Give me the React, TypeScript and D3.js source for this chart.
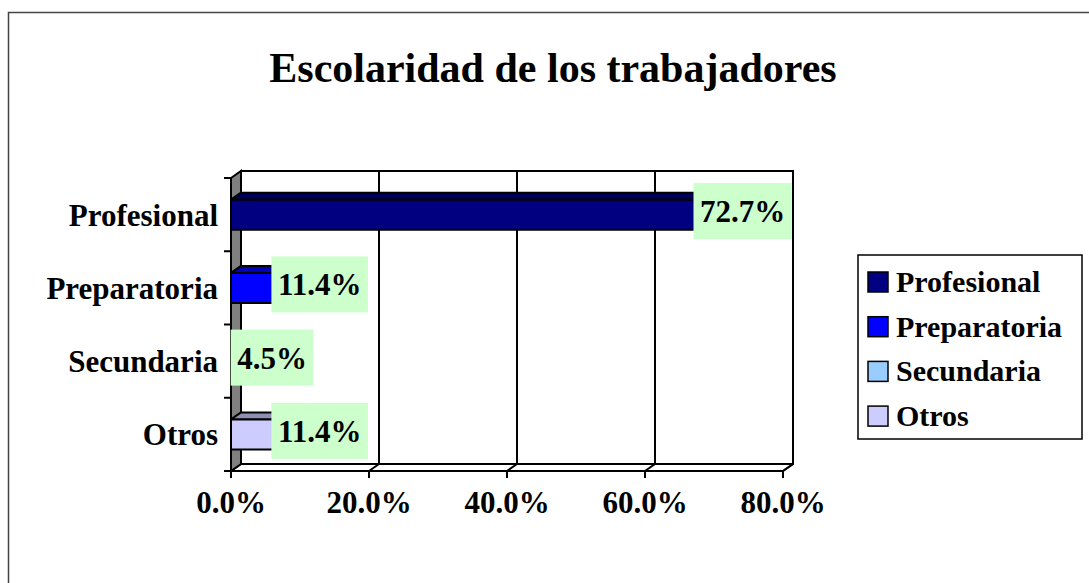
import React from "react";
import * as d3 from "d3";

const categories = ["Profesional", "Preparatoria", "Secundaria", "Otros"];
const values = [0.727, 0.114, 0.045, 0.114];
const valueLabels = ["72.7%", "11.4%", "4.5%", "11.4%"];
const xTicks = [0, 0.2, 0.4, 0.6, 0.8];
const xTickLabels = ["0.0%", "20.0%", "40.0%", "60.0%", "80.0%"];
const frontColors = ["#000080", "#0000FF", "#99CCFF", "#CCCCFF"];
const topColors = ["#00005A", "#0000B4", "#6B8FB3", "#8F8FB3"];
const sideColors = ["#000040", "#000080", "#4D6680", "#666680"];
const title = "Escolaridad de los trabajadores";

const FONT = "'Liberation Serif', 'Times New Roman', serif";
const FS = 31;

function measure(text: string, size: number): number {
  if (typeof document === "undefined") return text.length * size * 0.5;
  const c = document.createElement("canvas");
  const ctx = c.getContext("2d");
  if (!ctx) return text.length * size * 0.5;
  ctx.font = `bold ${size}px ${FONT}`;
  return ctx.measureText(text).width;
}

export default function App() {
  const W = 1089;
  const H = 583;
  const dx = 10;
  const dy = -7;
  const x = d3.scaleLinear().domain([0, 0.8]).range([231, 783]);
  const y = d3.scaleBand<string>().domain(categories).range([178, 471]);
  const yTop = 178;
  const yBot = 471;
  const barH = 30;
  const sw = 2;

  return (
    <svg
      width={W}
      height={H}
      style={{ position: "absolute", left: 0, top: 0, background: "#fff" }}
      fontFamily={FONT}
      fontWeight="bold"
    >
      <rect x={8.5} y={12.5} width={1300} height={800} fill="#fff" stroke="#444" strokeWidth={1.5} />
      <text x={553} y={82} fontSize={42} textAnchor="middle" fill="#000">
        {title}
      </text>

      {/* back wall */}
      <rect
        x={x(0) + dx}
        y={yTop + dy}
        width={x(0.8) - x(0)}
        height={yBot - yTop}
        fill="#fff"
        stroke="#000"
        strokeWidth={sw}
      />
      {xTicks.slice(1).map((t) => (
        <g key={"g" + t}>
          <line x1={x(t) + dx} x2={x(t) + dx} y1={yTop + dy} y2={yBot + dy} stroke="#000" strokeWidth={sw} />
          <line x1={x(t) + dx} x2={x(t)} y1={yBot + dy} y2={yBot} stroke="#000" strokeWidth={sw} />
        </g>
      ))}
      {/* floor */}
      <polygon
        points={`${x(0)},${yBot} ${x(0) + dx},${yBot + dy} ${x(0.8) + dx},${yBot + dy} ${x(0.8)},${yBot}`}
        fill="none"
        stroke="#000"
        strokeWidth={sw}
        strokeLinejoin="round"
      />
      {/* left wall */}
      <polygon
        points={`${x(0)},${yTop} ${x(0) + dx},${yTop + dy} ${x(0) + dx},${yBot + dy} ${x(0)},${yBot}`}
        fill="#808080"
        stroke="#000"
        strokeWidth={sw}
      />
      {[...categories.map((c) => y(c) as number), yBot].map((v, i) => (
        <line key={"yt" + i} x1={x(0) - 7} x2={x(0)} y1={v} y2={v} stroke="#000" strokeWidth={sw} />
      ))}
      {xTicks.map((t) => (
        <line key={"xt" + t} x1={x(t)} x2={x(t)} y1={yBot} y2={yBot + 7} stroke="#000" strokeWidth={sw} />
      ))}

      {/* bars */}
      {categories.map((c, i) => {
        const cy = (y(c) as number) + y.bandwidth() / 2;
        const t = cy - barH / 2;
        const b = cy + barH / 2;
        const x0 = x(0);
        const x1 = x(values[i]);
        return (
          <g key={"b" + c} stroke="#000" strokeWidth={sw} strokeLinejoin="round">
            <polygon
              points={`${x0},${t} ${x0 + dx},${t + dy} ${x1 + dx},${t + dy} ${x1},${t}`}
              fill={topColors[i]}
            />
            <polygon
              points={`${x1},${t} ${x1 + dx},${t + dy} ${x1 + dx},${b + dy} ${x1},${b}`}
              fill={sideColors[i]}
            />
            <rect x={x0} y={t} width={x1 - x0} height={barH} fill={frontColors[i]} />
          </g>
        );
      })}

      {/* data labels */}
      {categories.map((c, i) => {
        const cy = (y(c) as number) + y.bandwidth() / 2 + dy / 2;
        const cx = x(values[i]) + dx;
        const w = measure(valueLabels[i], FS) + 13;
        const h = 56;
        return (
          <g key={"l" + c}>
            <rect x={cx - w / 2} y={cy - h / 2} width={w} height={h} fill="#CCFFCC" />
            <text x={cx} y={cy + 11} fontSize={FS} textAnchor="middle" fill="#000">
              {valueLabels[i]}
            </text>
          </g>
        );
      })}

      {/* category labels */}
      {categories.map((c) => (
        <text
          key={"c" + c}
          x={218}
          y={(y(c) as number) + y.bandwidth() / 2 + 11}
          fontSize={FS}
          textAnchor="end"
          fill="#000"
        >
          {c}
        </text>
      ))}

      {xTicks.map((t, i) => (
        <text key={"xl" + t} x={x(t)} y={513} fontSize={FS} textAnchor="middle" fill="#000">
          {xTickLabels[i]}
        </text>
      ))}

      {/* legend */}
      <rect x={858} y={255} width={224} height={184} fill="#fff" stroke="#000" strokeWidth={1.5} />
      {categories.map((c, i) => (
        <g key={"lg" + c}>
          <rect x={868} y={272 + i * 44.7} width={20} height={20} fill={frontColors[i]} stroke="#000" strokeWidth={1.5} />
          <text x={896} y={292 + i * 44.7} fontSize={30} fill="#000">
            {c}
          </text>
        </g>
      ))}
    </svg>
  );
}
